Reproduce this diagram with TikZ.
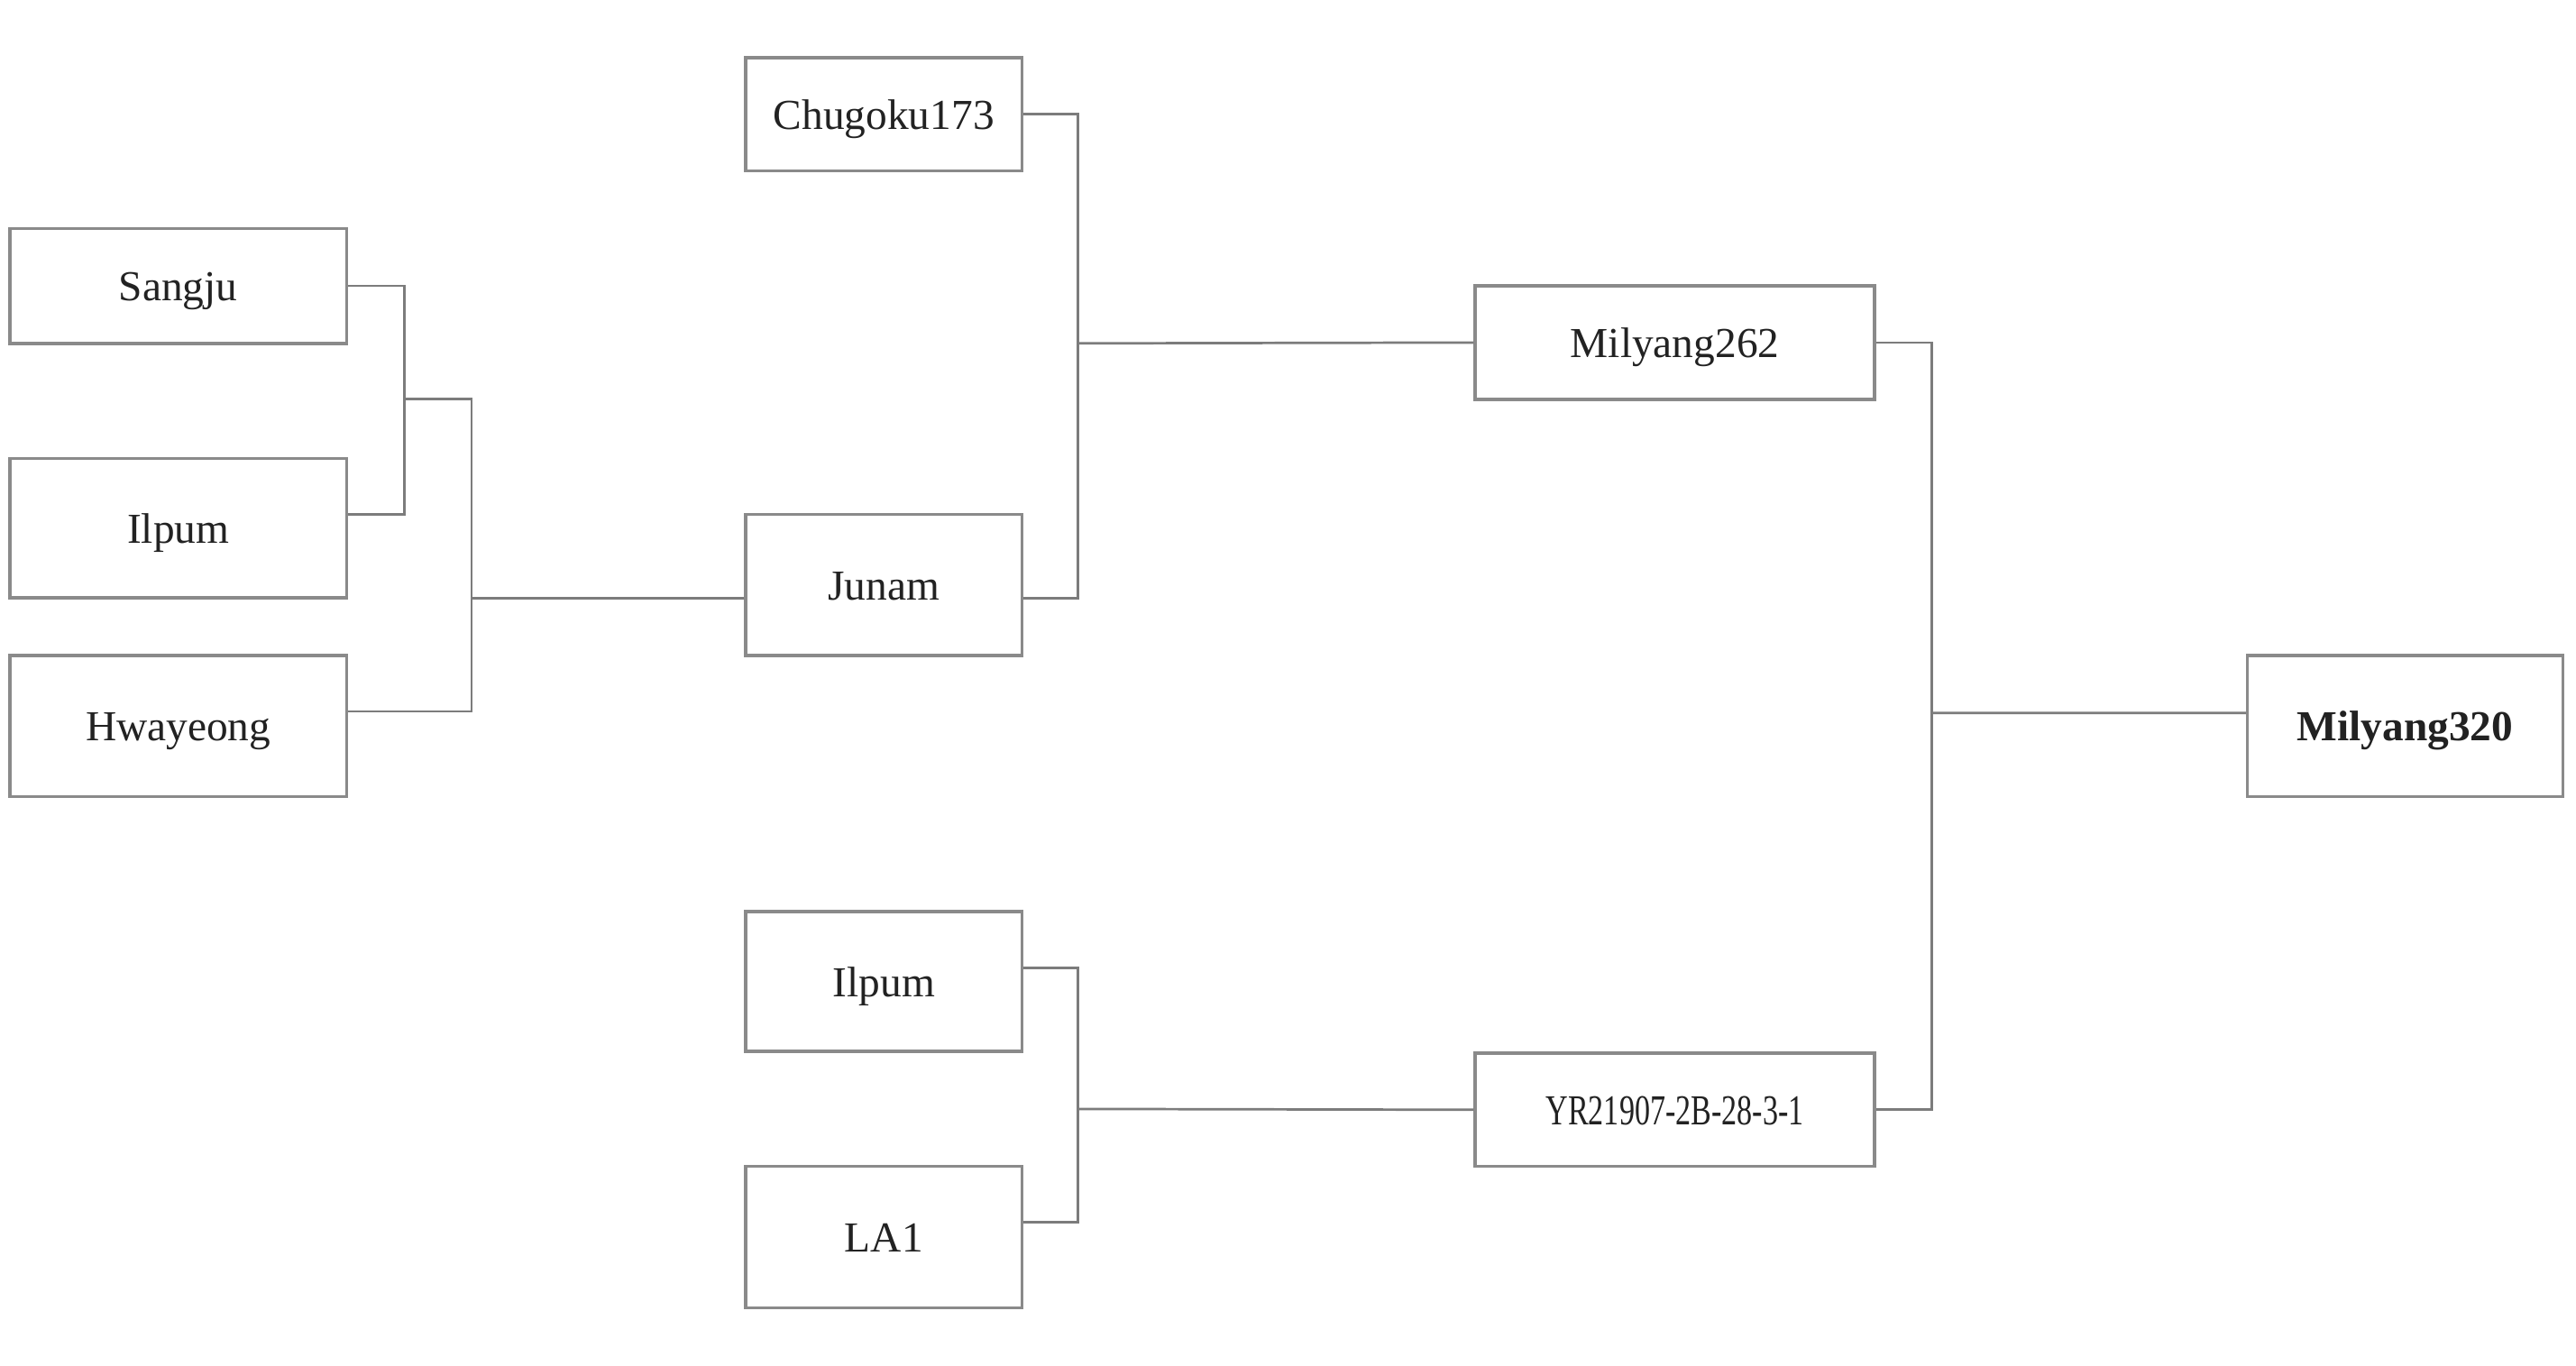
\documentclass[tikz,border=0pt]{standalone}
\usepackage{fontspec}
\usepackage{graphicx}
\setmainfont{Liberation Serif}
\definecolor{boxgray}{HTML}{8A8A8A}
\definecolor{linkgray}{HTML}{7C7C7C}
\definecolor{txt}{HTML}{222222}
\begin{document}
\begin{tikzpicture}[x=0.2mm,y=-0.2mm,
  box/.style={draw=boxgray,line width=1.1pt,fill=white,inner sep=0pt,text=txt,
    text height=4.2mm,text depth=0.6mm,font=\fontsize{14.8}{17}\selectfont},
  link/.style={draw=linkgray,line width=0.85pt}]
\useasboundingbox[fill=white] (0,0) rectangle (1568,831);
% left column
\node[box,minimum width=41mm,minimum height=14mm] (sangju) at (108.5,174) {Sangju};
\node[box,minimum width=41mm,minimum height=17mm] (ilpumL) at (108.5,321.5) {Ilpum};
\node[box,minimum width=41mm,minimum height=17.2mm] (hway) at (108.5,442) {Hwayeong};
% second column
\node[box,minimum width=33.6mm,minimum height=13.8mm] (chugoku) at (538,69.5) {Chugoku173};
\node[box,minimum width=33.6mm,minimum height=17.2mm] (junam) at (538,356) {Junam};
\node[box,minimum width=33.6mm,minimum height=17mm] (ilpumB) at (538,597.5) {Ilpum};
\node[box,minimum width=33.6mm,minimum height=17.2mm] (la1) at (538,753) {LA1};
% third column
\node[box,minimum width=48.6mm,minimum height=13.8mm] (m262) at (1019.5,208.5) {Milyang262};
\node[box,minimum width=48.6mm,minimum height=13.8mm] (yr) at (1019.5,675.5) {\scalebox{0.72}[1]{YR21907-2B-28-3-1}};
% final
\node[box,minimum width=38.4mm,minimum height=17.2mm,font=\fontsize{14.8}{17}\selectfont\bfseries] (m320) at (1464,442) {Milyang320};
% junctions
\coordinate (jA) at (246,243);
\coordinate (jB) at (287,243);
\coordinate (jC) at (656,209);
\coordinate (jD) at (656,675);
\coordinate (jE) at (1176,434);
% connectors
\draw[link] (sangju.east) -| (jA) |- ([yshift=1.7mm]ilpumL.east);
\draw[link] (jA) -- (jB) |- ([yshift=1.8mm]hway.east);
\draw[link] ([yshift=-1.6mm]junam.west) -| (jB);
\draw[link] (chugoku.east) -| (jC) |- ([yshift=-1.6mm]junam.east);
\draw[link] (jC) -- (m262.west);
\draw[link] ([yshift=1.7mm]ilpumB.east) -| (jD) |- ([yshift=1.8mm]la1.east);
\draw[link] (jD) -- (yr.west);
\draw[link] (m262.east) -| (jE) |- (yr.east);
\draw[link] (jE) -- ([yshift=1.6mm]m320.west);
\end{tikzpicture}
\end{document}
